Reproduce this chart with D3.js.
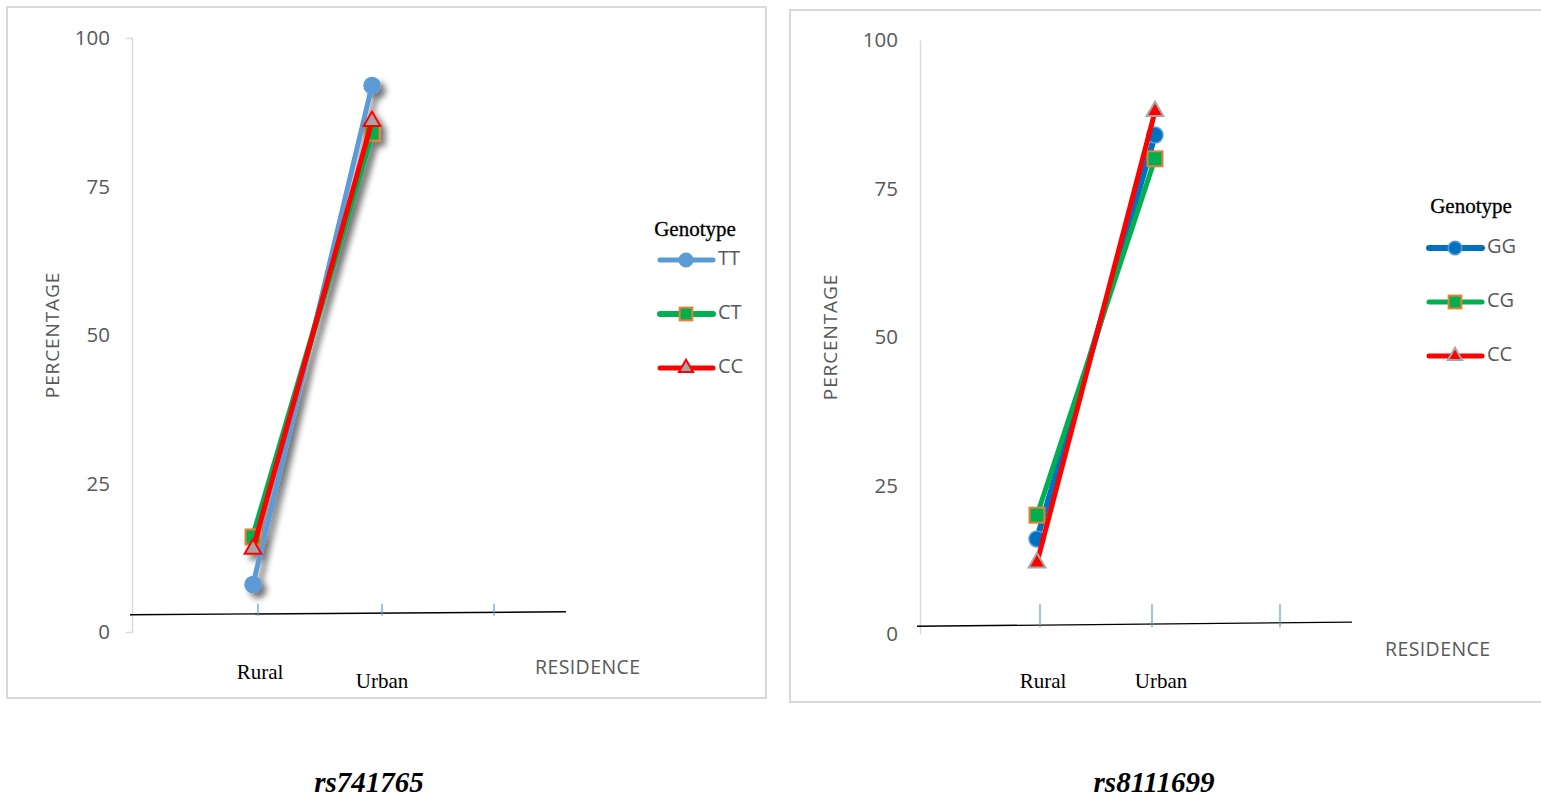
<!DOCTYPE html>
<html>
<head>
<meta charset="utf-8">
<script src="https://cdn.jsdelivr.net/npm/d3@7"></script>
<style>
  body { margin: 0; background: #fff; }
  svg { display: block; }
</style>
</head>
<body>
<div id="container"></div>
<script>
// data
const categories = ["Rural", "Urban"]
const yTicks = [0, 25, 50, 75, 100]

const leftGenotypes = ["TT", "CT", "CC"]
const leftValues = {
    TT: [8, 92],
    CT: [16, 84],
    CC: [14, 86]
}
const rightGenotypes = ["GG", "CG", "CC"]
const rightValues = {
    GG: [16, 84],
    CG: [20, 80],
    CC: [12, 88]
}
const titles = ["rs741765", "rs8111699"]

const W = 1541
const H = 798

const svg = d3.select("#container")
    .append("svg")
    .attr("width", W)
    .attr("height", H)

const defs = svg.append("defs")
const shadow = defs.append("filter").attr("id", "shadow")
    .attr("x", "-50%").attr("y", "-20%").attr("width", "200%").attr("height", "140%")
shadow.append("feGaussianBlur").attr("in", "SourceAlpha").attr("stdDeviation", 3)
shadow.append("feOffset").attr("dx", 5).attr("dy", 5).attr("result", "b")
shadow.append("feComponentTransfer").append("feFuncA").attr("type", "linear").attr("slope", 0.55)
const merge = shadow.append("feMerge")
merge.append("feMergeNode")
merge.append("feMergeNode").attr("in", "SourceGraphic")

const sans = "'Open Sans', 'Liberation Sans', sans-serif"
const serif = "'Liberation Serif', 'DejaVu Serif', serif"

function drawPanel(cfg) {
    const g = svg.append("g")

    // frame
    g.append("rect")
        .attr("x", cfg.box[0]).attr("y", cfg.box[1])
        .attr("width", cfg.box[2]).attr("height", cfg.box[3])
        .attr("fill", "#fff").attr("stroke", "#d9d9d9").attr("stroke-width", 2)

    const y = d3.scaleLinear().domain([0, 100]).range([cfg.y0, cfg.y100])
    const x = d3.scalePoint().domain(categories).range(cfg.pointX)
    const tickX = d3.scaleOrdinal().domain([0, 1, 2]).range(cfg.tickX)

    // y axis
    const yAxis = d3.axisLeft(y).tickValues(yTicks)
        .tickSizeInner(0).tickSizeOuter(cfg.outer).tickPadding(cfg.axisX - cfg.labelX)
    const ya = g.append("g").attr("transform", `translate(${cfg.axisX},0)`).call(yAxis)
    ya.select(".domain").attr("stroke", "#d9d9d9").attr("stroke-width", 1.5)
    ya.selectAll("text").attr("font-family", sans).attr("font-size", 20.5).attr("fill", "#595959")

    g.append("text")
        .attr("transform", `translate(${cfg.ylabX},${y(50)}) rotate(-90)`)
        .attr("text-anchor", "middle").attr("dominant-baseline", "middle")
        .attr("font-family", sans).attr("font-size", 19).attr("fill", "#595959")
        .attr("letter-spacing", 0.9)
        .text("PERCENTAGE")

    // baseline (slightly slanted, as in the source)
    g.append("line")
        .attr("x1", cfg.baseX[0]).attr("x2", cfg.baseX[1])
        .attr("y1", y(cfg.baseV[0])).attr("y2", y(cfg.baseV[1]))
        .attr("stroke", "#000").attr("stroke-width", 1.4)

    g.selectAll(".xt").data([0, 1, 2]).enter().append("line")
        .attr("x1", d => tickX(d)).attr("x2", d => tickX(d))
        .attr("y1", d => y(cfg.baseV[0]) + 1).attr("y2", d => y(cfg.baseV[0]) - cfg.tickLen)
        .attr("stroke", "#5b9bd5").attr("stroke-width", 1.2)

    g.selectAll(".cat").data(categories).enter().append("text")
        .attr("x", (d, i) => tickX(i) + cfg.catDx[i])
        .attr("y", (d, i) => cfg.catY[i])
        .attr("text-anchor", "middle")
        .attr("font-family", serif).attr("font-size", 21).attr("fill", "#000")
        .text(d => d)

    g.append("text")
        .attr("x", cfg.resX).attr("y", cfg.resY)
        .attr("font-family", sans).attr("font-size", 19.5).attr("fill", "#595959")
        .attr("letter-spacing", 0.4)
        .text("RESIDENCE")

    // series
    const line = d3.line().x((d, i) => x(categories[i])).y(d => y(d))
    const plot = g.append("g").attr("filter", cfg.shadow ? "url(#shadow)" : null)
    cfg.series.forEach(s => {
        plot.append("path")
            .datum(cfg.values[s.name])
            .attr("d", line)
            .attr("fill", "none")
            .attr("stroke", s.color).attr("stroke-width", s.width)
            .attr("stroke-linecap", "round")
        cfg.values[s.name].forEach((v, i) => {
            drawMarker(plot, s, x(categories[i]), y(v))
        })
    })

    // legend
    g.append("text")
        .attr("x", cfg.legX + cfg.legTitleDx).attr("y", cfg.legY)
        .attr("text-anchor", "middle")
        .attr("font-family", serif).attr("font-size", 21).attr("fill", "#000")
        .attr("stroke", "#000").attr("stroke-width", 0.3)
        .text("Genotype")
    cfg.series.forEach((s, i) => {
        const ly = cfg.legY + cfg.legFirst + i * 54
        g.append("line")
            .attr("x1", cfg.legX).attr("x2", cfg.legX + 53)
            .attr("y1", ly).attr("y2", ly)
            .attr("stroke", s.color).attr("stroke-width", s.width)
            .attr("stroke-linecap", "round")
        drawMarker(g, s, cfg.legX + 26, ly, 0.85)
        g.append("text")
            .attr("x", cfg.legX + 58).attr("y", ly)
            .attr("dominant-baseline", "middle")
            .attr("font-family", sans).attr("font-size", 20).attr("fill", "#595959")
            .text(s.name)
    })

    svg.append("text")
        .attr("x", cfg.titleX).attr("y", 792)
        .attr("text-anchor", "middle")
        .attr("font-family", serif).attr("font-size", 29)
        .attr("font-style", "italic").attr("font-weight", "bold").attr("fill", "#000")
        .text(cfg.title)
}

function drawMarker(g, s, cx, cy, k = 1) {
    if (s.marker === "circle") {
        g.append("circle").attr("cx", cx).attr("cy", cy).attr("r", 8 * k)
            .attr("fill", s.fill).attr("stroke", s.mstroke).attr("stroke-width", 1.5)
    } else if (s.marker === "square") {
        const a = 15 * k
        g.append("rect").attr("x", cx - a / 2).attr("y", cy - a / 2).attr("width", a).attr("height", a)
            .attr("fill", s.fill).attr("stroke", s.mstroke).attr("stroke-width", 2)
    } else {
        const sym = d3.symbol().type(d3.symbolTriangle).size(120 * k * k)
        g.append("path").attr("d", sym()).attr("transform", `translate(${cx},${cy})`)
            .attr("fill", s.fill).attr("stroke", s.mstroke).attr("stroke-width", 2)
    }
}

drawPanel({
    box: [7, 7, 759, 691],
    y0: 632, y100: 38,
    axisX: 132, labelX: 110, outer: 6, ylabX: 54,
    pointX: [253, 372],
    tickX: [258, 382, 494],
    baseX: [130, 566], baseV: [2.9, 3.4], tickLen: 11,
    catDx: [2, 0], catY: [679, 688],
    resX: 535, resY: 674,
    shadow: true,
    values: leftValues,
    series: [
        { name: "TT", color: "#5b9bd5", width: 5, marker: "circle", fill: "#5b9bd5", mstroke: "#5b9bd5" },
        { name: "CT", color: "#00b050", width: 6, marker: "square", fill: "#00b050", mstroke: "#ed7d31" },
        { name: "CC", color: "#ff0000", width: 5, marker: "triangle", fill: "#a5a5a5", mstroke: "#ff0000" }
    ],
    legX: 660, legY: 236, legTitleDx: 35, legFirst: 24,
    title: titles[0], titleX: 369
})

drawPanel({
    box: [790, 10, 760, 692],
    y0: 634, y100: 40,
    axisX: 920, labelX: 898, outer: 0, ylabX: 832,
    pointX: [1037, 1155],
    tickX: [1040, 1152, 1280],
    baseX: [917, 1352], baseV: [1.3, 2.0], tickLen: 22,
    catDx: [3, 9], catY: [688, 688],
    resX: 1385, resY: 656,
    shadow: false,
    values: rightValues,
    series: [
        { name: "GG", color: "#0070c0", width: 6, marker: "circle", fill: "#0070c0", mstroke: "#5b9bd5" },
        { name: "CG", color: "#00b050", width: 5, marker: "square", fill: "#00b050", mstroke: "#ed7d31" },
        { name: "CC", color: "#ff0000", width: 5, marker: "triangle", fill: "#ff0000", mstroke: "#a5a5a5" }
    ],
    legX: 1429, legY: 213, legTitleDx: 42, legFirst: 35,
    title: titles[1], titleX: 1154
})
</script>
</body>
</html>
